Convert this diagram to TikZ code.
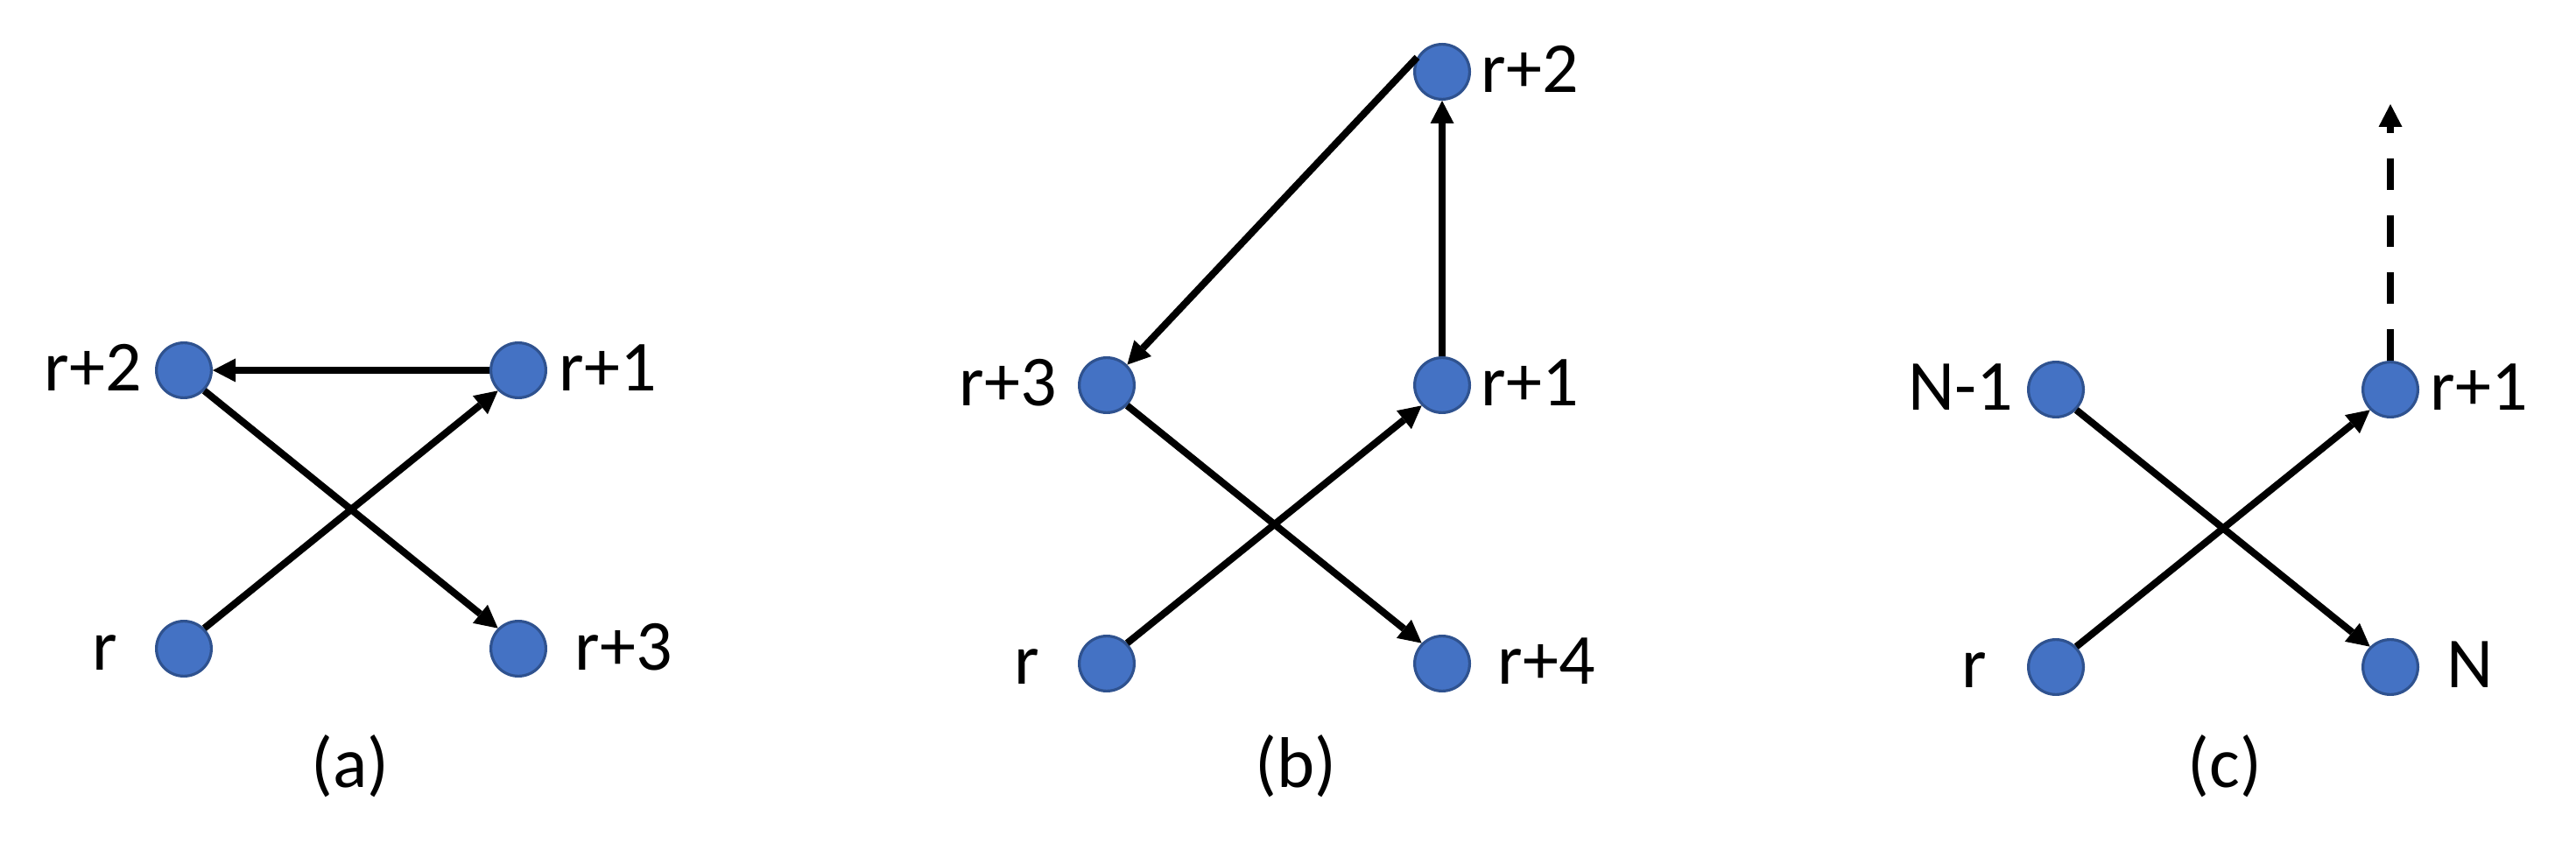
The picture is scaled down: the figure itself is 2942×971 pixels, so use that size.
\documentclass[tikz,border=0pt]{standalone}
\usepackage{fontspec}
\setmainfont{Carlito}
\usetikzlibrary{arrows.meta}
\definecolor{nodefill}{HTML}{4472C4}
\definecolor{nodeedge}{HTML}{2F528F}
\begin{document}
\begin{tikzpicture}[x=0.25pt,y=-0.25pt,
  vtx/.style={circle,fill=nodefill,draw=nodeedge,line width=0.8pt,minimum size=15.7pt,inner sep=0pt},
  lbl/.style={anchor=base west,inner sep=0pt,font=\fontsize{20.5pt}{24pt}\selectfont},
  captxt/.style={anchor=center,inner sep=0pt,font=\fontsize{20.5pt}{24pt}\selectfont},
  link/.style={line width=2pt,-{Triangle[length=6.5pt,width=6.75pt,line width=0pt]}},
]
\useasboundingbox (0,0) rectangle (2942,971);

% ---------- panel (a) ----------
\node[vtx] (a2) at (210,423) {};
\node[vtx] (a1) at (592,423) {};
\node[vtx] (a0) at (210,741) {};
\node[vtx] (a3) at (592,741) {};
\node[lbl] (la2) at (50,447) {r+2};
\node[lbl] (la1) at (638,447) {r+1};
\node[lbl] (la0) at (105,765) {r};
\node[lbl] (la3) at (656,765) {r+3};
\draw[link] (a1.west) -- (a2.east);
\draw[link] (a0.north east) -- (a1.south west);
\draw[link] (a2.south east) -- (a3.north west);
\node[captxt] (capa) at (400,875) {(a)};

% ---------- panel (b) ----------
\node[vtx] (b2) at (1647,82) {};
\node[vtx] (b3) at (1264,440) {};
\node[vtx] (b1) at (1647,440) {};
\node[vtx] (b0) at (1264,758) {};
\node[vtx] (b4) at (1647,758) {};
\node[lbl] (lb2) at (1691,106) {r+2};
\node[lbl] (lb3) at (1095,464) {r+3};
\node[lbl] (lb1) at (1691,464) {r+1};
\node[lbl] (lb0) at (1158,782) {r};
\node[lbl] (lb4) at (1710,782) {r+4};
\draw[link] (b1.north) -- (b2.south);
\draw[link] (b2.150) -- (b3.north east);
\draw[link] (b0.north east) -- (b1.south west);
\draw[link] (b3.south east) -- (b4.north west);
\node[captxt] (capb) at (1480,875) {(b)};

% ---------- panel (c) ----------
\node[vtx] (c9) at (2348,445) {};
\node[vtx] (c1) at (2730,445) {};
\node[vtx] (c0) at (2348,762) {};
\node[vtx] (cN) at (2730,762) {};
\node[lbl] (lc9) at (2179,469) {N-1};
\node[lbl] (lc1) at (2775,469) {r+1};
\node[lbl] (lc0) at (2240,786) {r};
\node[lbl] (lcN) at (2794,786) {N};
\coordinate (ctop) at (2730,119);
\draw[link] (c0.north east) -- (c1.south west);
\draw[link] (c9.south east) -- (cN.north west);
\draw[link,dash pattern=on 9pt off 7.25pt] (c1.north) -- (ctop);
\node[captxt] (capc) at (2541,875) {(c)};
\end{tikzpicture}
\end{document}
